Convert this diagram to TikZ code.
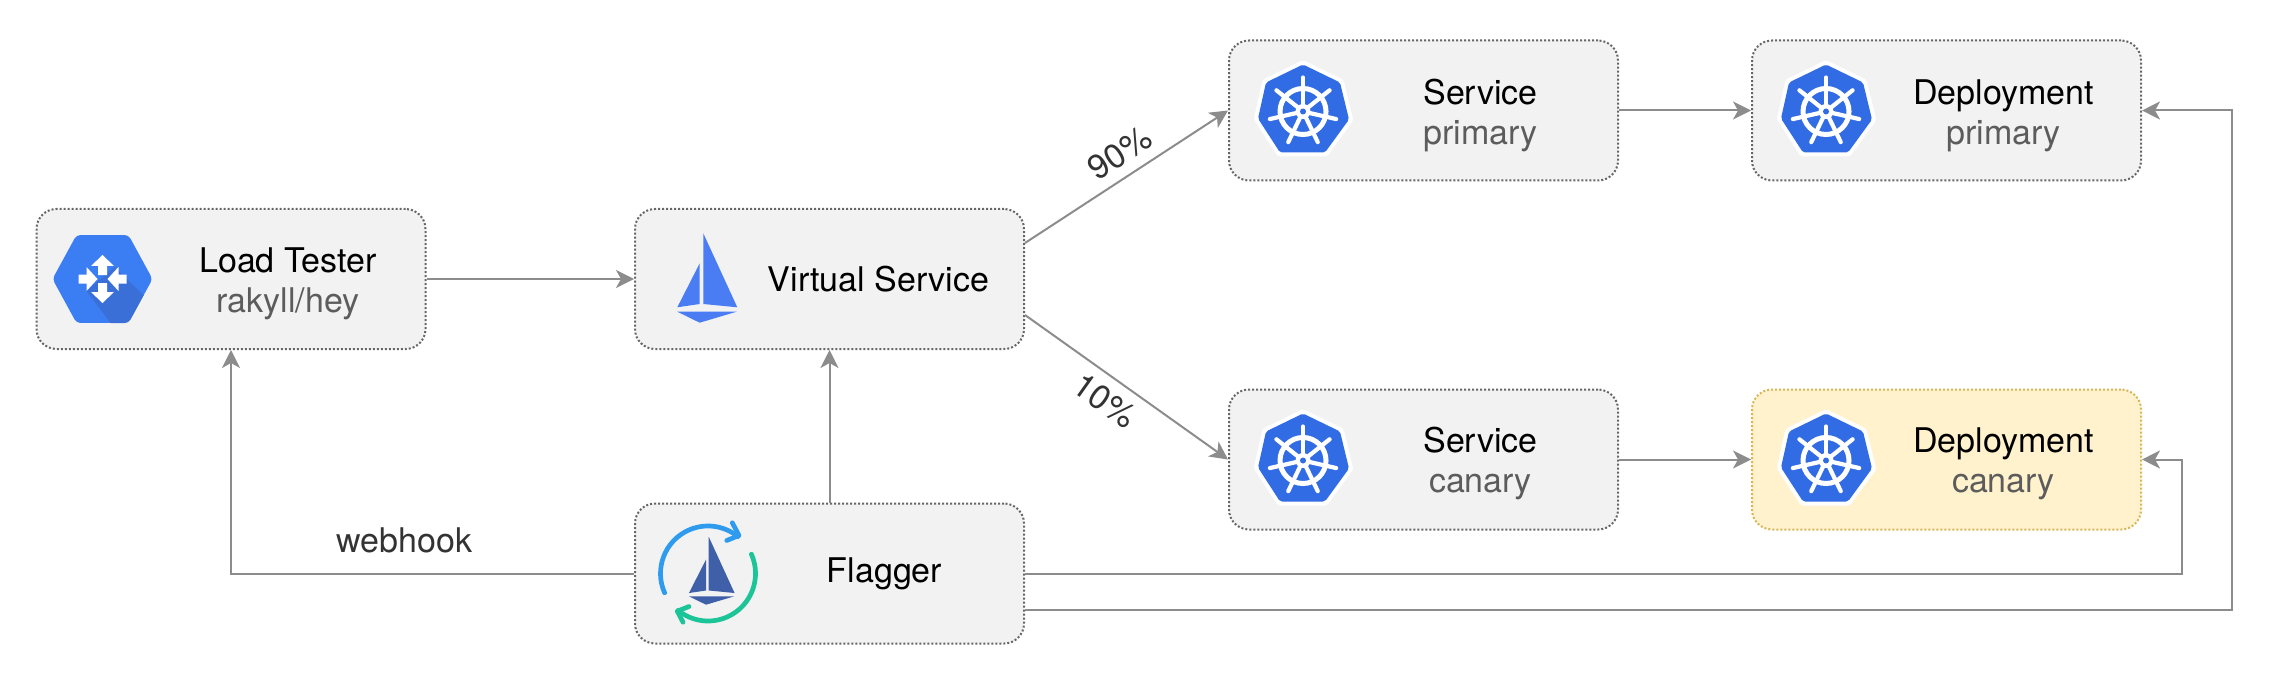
\documentclass[tikz,border=0pt]{standalone}
\usepackage{fontspec}
\setmainfont{TeX Gyre Heros}
\usetikzlibrary{arrows.meta, positioning}
\definecolor{boxfill}{HTML}{F2F2F2}
\definecolor{boxline}{HTML}{666666}
\definecolor{canfill}{HTML}{FFF2CC}
\definecolor{canline}{HTML}{D6B656}
\definecolor{wire}{HTML}{8C8C8C}
\definecolor{subtext}{HTML}{5C5C5C}
\definecolor{wiretext}{HTML}{333333}
\definecolor{k8sblue}{HTML}{326CE5}
\definecolor{gcpblue}{HTML}{3B7DF3}
\definecolor{gcpdark}{HTML}{3A6FD8}
\definecolor{boatblue}{HTML}{4A7DF4}
\definecolor{boatdark}{HTML}{3F5FA8}
\definecolor{loopblue}{HTML}{2E9BEE}
\definecolor{loopgreen}{HTML}{1CC598}
\tikzstyle{svcbox} = [rectangle, rounded corners=20pt, minimum width=389pt, minimum height=140pt, draw=boxline, fill=boxfill, line width=2pt, dash pattern=on 2pt off 2pt]
\tikzstyle{canbox} = [svcbox, draw=canline, fill=canfill]
\tikzstyle{boxtext} = [font=\fontsize{34}{40}\selectfont, text=black, align=center, inner sep=0pt]
\tikzstyle{linetext} = [boxtext, text=wiretext]
\tikzstyle{arrow} = [wire, line width=2pt, -{Stealth[length=18pt, width=18pt, inset=5pt]}]
\newcommand{\subt}[1]{{\color{subtext}#1}}
\tikzset{
  pics/helm/.style={code={
    \path [draw=white, fill=white, line width=8pt, line join=round] (0,47) -- (37,29) -- (46,-8) -- (22,-41) -- (-23,-41) -- (-45,-7) -- (-37,29) -- cycle;
    \fill [k8sblue, rounded corners=2pt] (0,47) -- (37,29) -- (46,-8) -- (22,-41) -- (-23,-41) -- (-45,-7) -- (-37,29) -- cycle;
    \draw [white, line width=5pt] (0,0) circle (23pt);
    \foreach \a in {0,...,6} {
      \draw [white, line width=4.2pt, line cap=round] (0,0) -- (90+\a*51.43:34pt);
    }
    \fill [white] (0,0) circle (7.5pt);
    \fill [k8sblue] (0,0) circle (3pt);
  }},
  pics/hexa/.style={code={
    \begin{scope}
      \clip [rounded corners=4pt] (-50,0) -- (-26,44) -- (26,44) -- (50,0) -- (26,-44) -- (-26,-44) -- cycle;
      \fill [gcpblue] (-50,-44) rectangle (50,44);
      \fill [gcpdark] (12,12) -- (50,-25) -- (50,-44) -- (8,-44) -- (-16,-12) -- cycle;
    \end{scope}
    \foreach \r in {0,180} {
      \fill [white, rotate=\r] (0,24) -- (11.5,13) -- (4.5,13) -- (4.5,4) -- (-4.5,4) -- (-4.5,13) -- (-11.5,13) -- cycle;
      \fill [white, rotate=\r] (5,0) -- (16,12) -- (16,4.5) -- (24,4.5) -- (24,-4.5) -- (16,-4.5) -- (16,-12) -- cycle;
    }
  }},
  pics/boat/.style={code={
    \fill [#1] (3.6,45.7) -- (37.6,-28.3) -- (3.6,-25) -- cycle;
    \fill [#1] (0,15.7) -- (0,-25) -- (-22.4,-28.3) -- cycle;
    \fill [#1] (-22.4,-32.7) -- (37,-32.7) -- (0,-43.7) -- cycle;
  }},
  pics/cycle/.style={code={
    \draw [loopblue, line width=4.7pt, line cap=round, line join=round] (204:47.5pt) arc [start angle=204, end angle=51, radius=47.5pt];
    \draw [loopblue, line width=4.7pt, line cap=round, line join=round] (24.3,50.7) -- (31,38) -- (18.7,33);
    \draw [loopgreen, line width=4.7pt, line cap=round, line join=round] (24:47.5pt) arc [start angle=24, end angle=-129, radius=47.5pt];
    \draw [loopgreen, line width=4.7pt, line cap=round, line join=round] (-19,-33) -- (-30.7,-37.7) -- (-25,-48.7);
  }}
}
\begin{document}
\begin{tikzpicture}[x=1pt, y=1pt, node distance=132pt]
\useasboundingbox (0,0) rectangle (2274,-676);

\node (lt) [svcbox] at (231,-279) {};
\node (vs) [svcbox, right=207.5pt of lt] {};
\node (flagger) [svcbox, below=152.5pt of vs] {};

\node (svcp) [svcbox, above right=26.5pt and 203pt of vs] {};
\node (depp) [svcbox, right=of svcp] {};
\node (svcc) [svcbox, below right=38.5pt and 203pt of vs] {};
\node (depc) [canbox, right=of svcc] {};

\node (ltext) [boxtext] at ([xshift=57pt, yshift=-5pt]lt.center) {Load Tester\\ \subt{rakyll/hey}};
\node (vstext) [boxtext] at ([xshift=49pt]vs.center) {Virtual Service};
\node (ftext) [boxtext] at ([xshift=55pt]flagger.center) {Flagger};
\node (sptext) [boxtext] at ([xshift=57pt, yshift=-5pt]svcp.center) {Service\\ \subt{primary}};
\node (dptext) [boxtext] at ([xshift=57pt, yshift=-5pt]depp.center) {Deployment\\ \subt{primary}};
\node (sctext) [boxtext] at ([xshift=57pt, yshift=-4pt]svcc.center) {Service\\ \subt{canary}};
\node (dctext) [boxtext] at ([xshift=57pt, yshift=-4pt]depc.center) {Deployment\\ \subt{canary}};

\pic at ([xshift=67pt]lt.west) {hexa};
\pic at ([xshift=65.7pt]vs.west) {boat=boatblue};
\pic [scale=.76] at ([xshift=72pt, yshift=2pt]flagger.west) {boat=boatdark};
\pic at ([xshift=74pt]flagger.west) {cycle};
\pic at ([xshift=75pt, yshift=-1pt]svcp.west) {helm};
\pic at ([xshift=75pt, yshift=-1pt]depp.west) {helm};
\pic at ([xshift=75pt, yshift=-1pt]svcc.west) {helm};
\pic at ([xshift=75pt, yshift=-1pt]depc.west) {helm};

\coordinate [right=40pt of depc.east] (railc);
\coordinate [right=90pt of depp.east] (railp);

\draw [arrow] (lt) -- (vs);
\draw [arrow] ([yshift=36pt]vs.east) -- node (ninety) [linetext, sloped, above=10pt, pos=.53] {90\%} (svcp.west);
\draw [arrow] ([yshift=-36pt]vs.east) -- node (ten) [linetext, sloped, below=10pt, pos=.46] {10\%} (svcc.west);
\draw [arrow] (svcp) -- (depp);
\draw [arrow] (svcc) -- (depc);
\draw [arrow] (flagger) -- (vs);
\draw [arrow] (flagger) -| node (hook) [linetext, above=19pt, pos=.285] {webhook} (lt);
\draw [arrow] (flagger.east) -| (railc) -- (depc.east);
\draw [arrow] ([yshift=-36pt]flagger.east) -| (railp) -- (depp.east);
\end{tikzpicture}
\end{document}
